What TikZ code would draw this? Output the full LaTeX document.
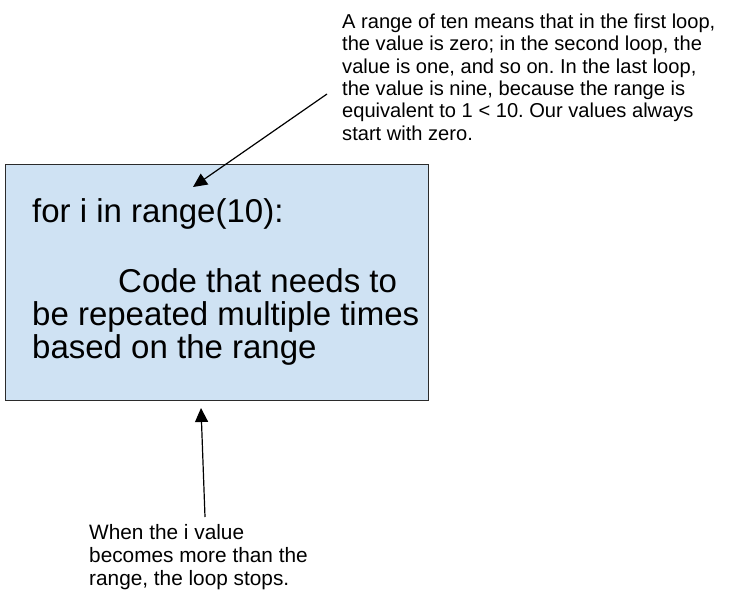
\documentclass[tikz,border=0pt]{standalone}
\usepackage{fontspec}
\setmainfont{Liberation Sans}
\usepackage{tikz}
\usetikzlibrary{arrows.meta}
\usetikzlibrary{positioning}
\frenchspacing
\definecolor{boxblue}{HTML}{CFE2F3}
\definecolor{boxline}{HTML}{2B2B2B}
\tikzset{
  loopbox/.style={draw=boxline, fill=boxblue, line width=1.3pt, rectangle, inner sep=0pt},
  codetext/.style={inner sep=0pt, align=left, font=\fontsize{33}{33.3}\selectfont},
  notetext/.style={inner sep=0pt, align=left, font=\fontsize{20.1}{22.4}\selectfont},
  pointer/.style={-{Triangle[length=14pt,width=13pt]}, line width=1.2pt, black}
}
\begin{document}
\begin{tikzpicture}[x=1pt, y=-1pt]
    \useasboundingbox (0,0) rectangle (729,595);

    % Define nodes
    \node (loop) [loopbox, anchor=north west, minimum width=423pt, minimum height=236pt] at (5,164) {};
    \node (code) [codetext, anchor=north west] at (32,198) {for i in range(10):\\[36.7pt]
      \hspace*{86pt}Code that needs to\\
      be repeated multiple times\\
      based on the range};
    \node (rangenote) [notetext, anchor=north west] at (342,13.6) {A range of ten means that in the first loop,\\
      the value is zero; in the second loop, the\\
      value is one, and so on. In the last loop,\\
      the value is nine, because the range is\\
      equivalent to 1 < 10. Our values always\\
      start with zero.};
    \node (stopnote) [notetext, anchor=north west, font=\fontsize{20.8}{23}\selectfont] at (89,524.5) {When the i value\\
      becomes more than the\\
      range, the loop stops.};

    % Arrow ends
    \coordinate (rangetail) at (327,94);
    \coordinate (rangetip) at (193,187);
    \coordinate (stoptail) at (205,517);
    \coordinate (stoptip) at (201,408);

    % Draw edges
    \draw[pointer] (rangetail) -- (rangetip);
    \draw[pointer] (stoptail) -- (stoptip);

\end{tikzpicture}
\end{document}
